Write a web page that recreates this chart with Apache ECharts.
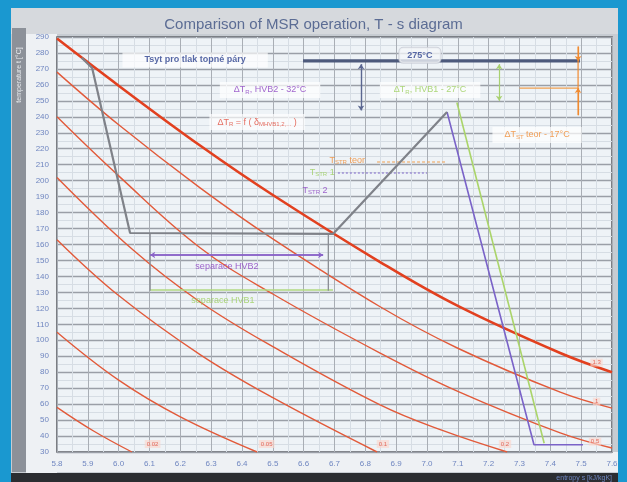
<!DOCTYPE html>
<html><head><meta charset="utf-8">
<script src="https://cdn.jsdelivr.net/npm/echarts/dist/echarts.min.js"></script>
<style>html,body{margin:0;padding:0;background:#1a98d0}#c{width:627px;height:482px}</style>
</head><body><div id="c"></div>
<script>
// ---- tick labels ----
const sMin = 5.8, sMax = 7.6, sStep = 0.1;
const tMin = 30, tMax = 290, tStep = 10;

// ---- red lines (entropy s, temperature t) ----
const redThick = [[5.8,289],[6.0,259.5],[6.264,222],[6.5,191],[6.848,149],[7.1,121.5],[7.432,92],[7.6,80]];
const redA = [[5.8,268],[6.0,235],[6.264,195.5],[6.5,163.5],[6.848,121],[7.1,95],[7.432,67.5],[7.6,57.5]];
const redB = [[5.8,240],[6.0,203],[6.264,158],[6.5,129],[6.848,92],[7.1,68],[7.432,42],[7.6,32.5]];
const redC = [[5.8,202],[6.047,156.5],[6.264,124],[6.5,96],[6.848,59.5],[7.05,43.5],[7.26,30]];
const redD = [[5.8,163],[6.0,128],[6.264,91],[6.5,64],[6.838,30]];
const redE = [[5.8,105],[6.0,75],[6.2,52],[6.449,30]];
const redF = [[5.8,58],[5.92,43],[6.043,30]];
const redLabels = [['1.3',7.55,86],['1',7.55,61.5],['0.5',7.545,36.5],['0.2',7.253,35],['0.1',6.857,35],['0.05',6.48,35],['0.02',6.11,35]];

// ---- cycle lines ----
const cycleGray = [[5.88,277],[5.914,270.6],[6.037,167.2],[6.695,166.6],[7.065,243]];
const cyclePurple = [[7.065,243],[7.347,34.5],[7.506,34.5]];
const cycleGreen = [[7.097,249],[7.38,35.5]];

// ---- reference lines ----
const line275 = [[6.598,275],[7.496,275]];
const tstrTeor = [[6.838,211.7],[7.065,211.7]];
const tstr1 = [[6.711,204.8],[7.0,204.8]];
const sepHVB2 = [[6.102,153.4],[6.663,153.4]];
const sepHVB1 = [[6.102,131.5],[6.695,131.5]];
const sepEnds = [[[6.102,167],[6.102,131]],[[6.68,167],[6.68,131]]];
const arrowHVB2 = [[6.786,273],[6.786,244]];
const arrowHVB1 = [[7.234,273],[7.234,250]];
const arrowTeor = [[7.49,284],[7.49,241]];
const teorLevel = [[7.30,258],[7.49,258]];

const chart = echarts.init(document.getElementById('c'));

const sub = (c) => ({color:c, fontSize:6, verticalAlign:'bottom', padding:[4,0,0,0], fontFamily:'Liberation Sans'});
function note(pos, fmt, color, opts) {
  opts = opts || {};
  return {
    type:'scatter', symbolSize:1, itemStyle:{color:'rgba(0,0,0,0)'}, silent:true, z:6,
    data:[pos],
    label:{show:true, position:'inside', formatter:fmt, color:color, fontSize:opts.fs||9,
      fontWeight:opts.bold?'bold':'normal', fontFamily:'Liberation Sans',
      backgroundColor:opts.bg||'transparent', padding:opts.pad||[2,4], borderRadius:opts.br||0,
      borderColor:opts.bc||'transparent', borderWidth:opts.bc?1:0,
      rich:{n:{color:color, fontSize:opts.fs||9, fontWeight:opts.bold?'bold':'normal', fontFamily:'Liberation Sans'}, s:sub(color)}}
  };
}
function ln(data, color, width, extra) {
  return Object.assign({type:'line', data:data, symbol:'none', silent:true,
    lineStyle:{color:color, width:width}}, extra||{});
}

const series = [
  ln(redThick,'#e2401f',2.6,{smooth:0.4,z:3}),
  ln(redA,'#e25a3a',1.4,{smooth:0.4}),
  ln(redB,'#e25a3a',1.4,{smooth:0.4}),
  ln(redC,'#e25a3a',1.4,{smooth:0.4}),
  ln(redD,'#e25a3a',1.4,{smooth:0.4}),
  ln(redE,'#e25a3a',1.4,{smooth:0.4}),
  ln(redF,'#e25a3a',1.4,{smooth:0.4}),
  ln(cycleGreen,'#aad46a',1.6),
  ln(cyclePurple,'#7a63c8',1.6),
  ln(cycleGray,'#7f8289',2.2,{z:4}),
  ln(line275,'#4d5a7c',3.2),
  ln(tstrTeor,'#f0a050',1.2,{lineStyle:{color:'#f0a050',width:1.2,type:[3,2]}}),
  ln(tstr1,'#7a63c8',1.2,{lineStyle:{color:'#7a63c8',width:1.2,type:[2,2]}}),
  ln(sepHVB2,'#8a63c8',1.6,{markLine:{silent:true,symbol:['arrow','arrow'],symbolSize:5,label:{show:false},
      lineStyle:{color:'#8a63c8',width:1.6,type:'solid'},data:[[{coord:sepHVB2[0]},{coord:sepHVB2[1]}]]}}),
  ln(sepHVB1,'#b0d880',1.6),
  ln(sepEnds[0],'#8a8d94',1.3),
  ln(sepEnds[1],'#8a8d94',1.3),
  ln(teorLevel,'#f0a050',1.2),
  ln(arrowTeor,'#f08a30',1.2,{markLine:{silent:true,symbol:['none','arrow'],symbolSize:5,label:{show:false},
      lineStyle:{color:'#f08a30',width:1.2,type:'solid'},
      data:[[{coord:[7.49,284]},{coord:[7.49,275]}],[{coord:[7.49,241]},{coord:[7.49,258]}]]}}),
  {type:'line', data:[], silent:true, markLine:{silent:true,symbol:['arrow','arrow'],symbolSize:5,label:{show:false},
      lineStyle:{color:'#5a6690',width:1.4,type:'solid'},
      data:[[{coord:arrowHVB2[0]},{coord:arrowHVB2[1]}]]}},
  {type:'line', data:[], silent:true, markLine:{silent:true,symbol:['arrow','arrow'],symbolSize:5,label:{show:false},
      lineStyle:{color:'#a8d070',width:1.2,type:'solid'},
      data:[[{coord:arrowHVB1[0]},{coord:arrowHVB1[1]}]]}},
  note([6.248,275.6],'Tsyt pro tlak topné páry','#2e4390',{bold:true,bg:'rgba(255,255,255,0.85)',pad:[3,22]}),
  note([6.977,278.5],'275°C','#2e4390',{bold:true,bg:'rgba(245,247,250,0.95)',pad:[3,8],br:4,bc:'#c8ccd4'}),
  note([6.491,256.8],'{n|ΔT}{s|R}{n|, HVB2 - 32°C}','#8a3fc0',{bg:'rgba(255,255,255,0.9)',pad:[3,14]}),
  note([7.01,256.8],'{n|ΔT}{s|R}{n|, HVB1 - 27°C}','#9acd5a',{bg:'rgba(255,255,255,0.9)',pad:[3,14]}),
  note([6.449,236.7],'{n|ΔT}{s|R}{n| = f ( δ}{s|MHVB1,2,...}{n| )}','#e04a3a',{bg:'rgba(255,255,255,0.85)',pad:[3,8]}),
  note([7.357,228.6],'{n|ΔT}{s|ST}{n| teor - 17°C}','#f08a30',{bg:'rgba(255,255,255,0.9)',pad:[3,12]}),
  note([6.741,212.5],'{n|T}{s|STR}{n| teor}','#f08a30',{}),
  note([6.66,205],'{n|T}{s|STR}{n| 1}','#9acd5a',{}),
  note([6.637,194],'{n|T}{s|STR}{n| 2}','#8a3fc0',{}),
  note([6.351,145.9],'separace HVB2','#8a3fc0',{}),
  note([6.338,125.2],'separace HVB1','#9acd5a',{})
];
redLabels.forEach(r => series.push(note([r[1],r[2]], r[0], '#e04a3a', {fs:6, pad:[1,2], bg:'rgba(250,215,205,0.8)'})));

chart.setOption({
  backgroundColor:'#1a98d0',
  animation:false,
  title:{text:'Comparison of MSR operation, T - s diagram', left:'center', top:12,
    textStyle:{color:'#5b6c94', fontSize:15, fontWeight:'normal', fontFamily:'Liberation Sans'}},
  graphic:{elements:[
    {type:'rect', shape:{x:11,y:8,width:607,height:474}, style:{fill:'#c7ccd2'}, z:-10},
    {type:'rect', shape:{x:11,y:8,width:607,height:26}, style:{fill:'#d6d9dd'}, z:-9},
    {type:'rect', shape:{x:12,y:28,width:14,height:444}, style:{fill:'#8c9199'}, z:-9},
    {type:'rect', shape:{x:26,y:34,width:31,height:440}, style:{fill:'#eef1f4'}, z:-9},
    {type:'rect', shape:{x:57,y:452,width:561,height:20}, style:{fill:'#eef1f4'}, z:-9},
    {type:'rect', shape:{x:11,y:473,width:607,height:9}, style:{fill:'#2b2d31'}, z:-9},
    {type:'text', x:19, y:75, rotation:Math.PI/2, style:{text:'temperature t [°C]', fill:'#e8ebef', font:'7px Liberation Sans', textAlign:'center', textVerticalAlign:'middle'}, z:5},
    {type:'text', x:612, y:478, style:{text:'entropy s [kJ/kgK]', fill:'#6f86c0', font:'7px Liberation Sans', textAlign:'right', textVerticalAlign:'middle'}, z:5}
  ]},
  grid:{left:57, right:15, top:37, bottom:30, show:true, backgroundColor:'#eef3f7', borderColor:'#55585e', borderWidth:1.5},
  xAxis:{type:'value', min:sMin, max:sMax, interval:sStep,
    axisLabel:{formatter:v=>v.toFixed(1), color:'#6f86c0', fontSize:8, margin:8, fontFamily:'Liberation Sans'},
    axisLine:{show:false}, axisTick:{show:false},
    splitLine:{show:true, lineStyle:{color:'#a9aeb5', width:1}},
    minorTick:{show:false, splitNumber:2}, minorSplitLine:{show:true, lineStyle:{color:'#d6dde4', width:1}}},
  yAxis:{type:'value', min:tMin, max:tMax, interval:tStep,
    axisLabel:{color:'#6f86c0', fontSize:8, margin:8, fontFamily:'Liberation Sans'},
    axisLine:{show:false}, axisTick:{show:false},
    splitLine:{show:true, lineStyle:{color:'#9a9fa7', width:1.4}},
    minorTick:{show:false, splitNumber:2}, minorSplitLine:{show:true, lineStyle:{color:'#d6dde4', width:1}}},
  series:series
});
</script></body></html>
